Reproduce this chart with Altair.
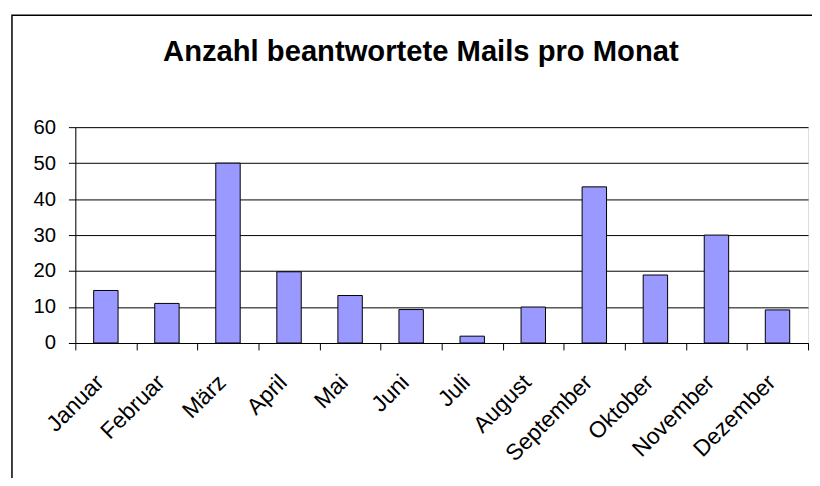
import altair as alt
import pandas as pd

months = ["Januar", "Februar", "März", "April", "Mai", "Juni", "Juli",
          "August", "September", "Oktober", "November", "Dezember"]
mails = [14.6, 11, 50, 19.8, 13.2, 9.3, 1.9, 10, 43.4, 18.9, 30, 9.2]
y_ticks = [0, 10, 20, 30, 40, 50, 60]
title_text = "Anzahl beantwortete Mails pro Monat"

FONT = "Liberation Sans"

df = pd.DataFrame({"Monat": months, "Mails": mails})

border = alt.Chart(pd.DataFrame({"k": [0]})).mark_rect(
    fill="transparent", stroke="black", strokeWidth=1.5
).encode(
    x=alt.value(-64), x2=alt.value(800), y=alt.value(-113), y2=alt.value(400)
)

bars = alt.Chart(df).mark_bar(
    color="#9999FF", stroke="black", strokeWidth=1,
    width=alt.RelativeBandSize(0.4)
).encode(
    x=alt.X("Monat:N", sort=months,
            scale=alt.Scale(paddingInner=0, paddingOuter=0),
            axis=alt.Axis(title=None, labelAngle=-45, tickBand="extent",
                          grid=False, ticks=True, tickSize=7, tickColor="black",
                          domainColor="black", labelFont=FONT, labelFontSize=23,
                          labelColor="black", labelPadding=21, labelOffset=-14)),
    y=alt.Y("Mails:Q", scale=alt.Scale(domain=[0, 60], nice=False),
            axis=alt.Axis(title=None, values=y_ticks, grid=True, gridColor="black",
                          gridWidth=1, tickSize=7, tickColor="black",
                          domainColor="black", labelFont=FONT, labelFontSize=20.5,
                          labelColor="black", labelPadding=13)),
)

chart = alt.layer(border, bars).properties(
    width=740, height=218,
    autosize=alt.AutoSizeParams(type="none"),
    padding={"left": 68, "top": 118, "right": 4, "bottom": 134},
    title=alt.Title(title_text, font=FONT, fontSize=29.5, fontWeight="bold",
                    color="black", anchor="middle", dx=-21, offset=-76,
                    baseline="alphabetic"),
).configure_view(
    fill="#C0C0C0", stroke="#808080", strokeWidth=1
).configure(background="white")

chart.save("out.html", embed_options={"renderer": "svg", "actions": False})
